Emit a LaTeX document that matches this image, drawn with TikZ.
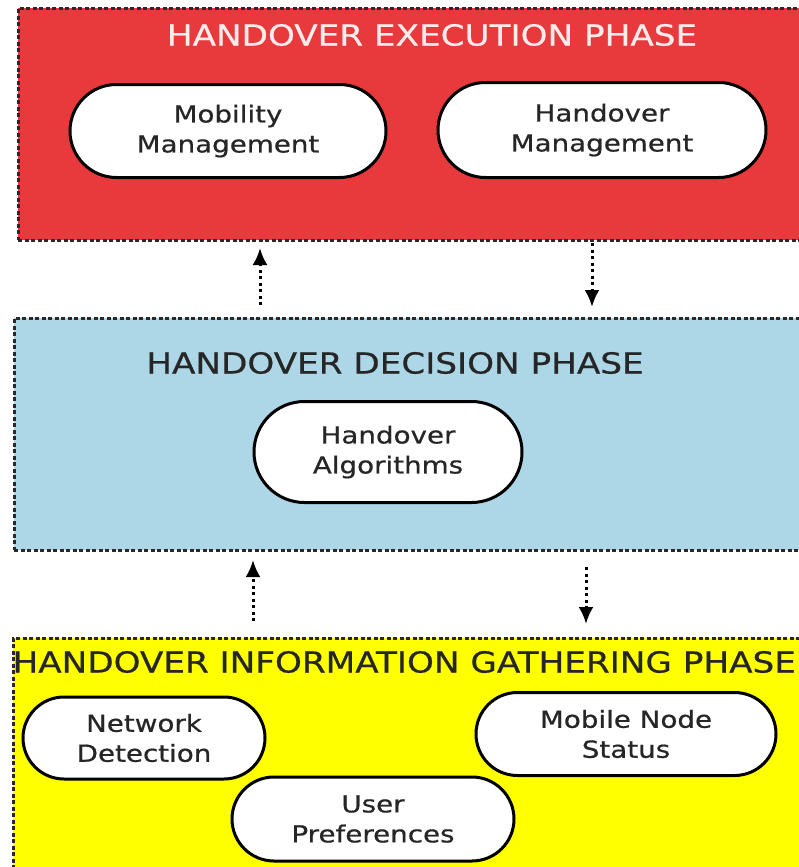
\documentclass[tikz,border=0pt]{standalone}
\usepackage{fontspec}
\setmainfont{DejaVu Sans}[FakeStretch=1.18, FakeBold=0.6]
\usetikzlibrary{shapes.misc,arrows.meta,positioning}

\definecolor{execred}{RGB}{232,58,60}
\definecolor{decblue}{RGB}{173,214,230}
\definecolor{gathyellow}{RGB}{255,255,0}
\definecolor{edgegray}{RGB}{45,40,40}

\begin{document}
\begin{tikzpicture}[x=1pt, y=1pt,
    phase/.style={draw=edgegray, line width=2.6pt, dash pattern=on 4pt off 2.5pt,
                  anchor=north west, inner sep=0pt},
    block/.style={rounded rectangle, draw=black, line width=3pt, fill=white,
                  align=center, text=black!85, inner sep=0pt,
                  font=\fontsize{23.5}{30}\selectfont},
    title/.style={font=\fontsize{29}{34}\selectfont},
    flow/.style={draw=black, line width=3pt, dash pattern=on 3pt off 3.5pt,
                 -{Latex[length=17pt,width=15pt]}}]
    \useasboundingbox (0,0) rectangle (798,-867);

    % Phases
    \node[phase, fill=execred, minimum width=800, minimum height=232] (exec) at (17,-7) {};
    \node[phase, fill=decblue, minimum width=800, minimum height=232] (decision) at (13,-317) {};
    \node[phase, fill=gathyellow, minimum width=800, minimum height=240] (gather) at (12,-637) {};

    % Phase titles
    \node[title, text=white!92!red] (exectitle) at (432,-35) {HANDOVER EXECUTION PHASE};
    \node[title, text=black!85] (dectitle) at (395,-363) {HANDOVER DECISION PHASE};
    \node[title, text=black!85, anchor=west] (gathtitle) at (9,-662) {HANDOVER INFORMATION GATHERING PHASE};

    % Execution
    \node[block, minimum width=316, minimum height=93] (mobility) at (228,-131) {Mobility\\Management};
    \node[block, minimum width=328, minimum height=95] (hmgmt) at (602,-130) {Handover\\Management};

    % Decision
    \node[block, minimum width=268, minimum height=101] (algo) at (388,-452) {Handover\\Algorithms};

    % Information gathering
    \node[block, minimum width=242, minimum height=82] (netdet) at (144,-738) {Network\\Detection};
    \node[block, minimum width=300, minimum height=83] (mnstatus) at (626,-734) {Mobile Node\\Status};
    \node[block, minimum width=282, minimum height=84] (userpref) at (373,-819) {User\\Preferences};

    % Arrows between phases
    \coordinate (up1s) at (260,-305);
    \coordinate (up1e) at (260,-248);
    \coordinate (dn1s) at (592,-243);
    \coordinate (dn1e) at (592,-307);
    \coordinate (up2s) at (253,-621);
    \coordinate (up2e) at (253,-560);
    \coordinate (dn2s) at (586,-567);
    \coordinate (dn2e) at (586,-624);
    \draw[flow] (up1s) -- (up1e);
    \draw[flow] (dn1s) -- (dn1e);
    \draw[flow] (up2s) -- (up2e);
    \draw[flow] (dn2s) -- (dn2e);
\end{tikzpicture}
\end{document}
